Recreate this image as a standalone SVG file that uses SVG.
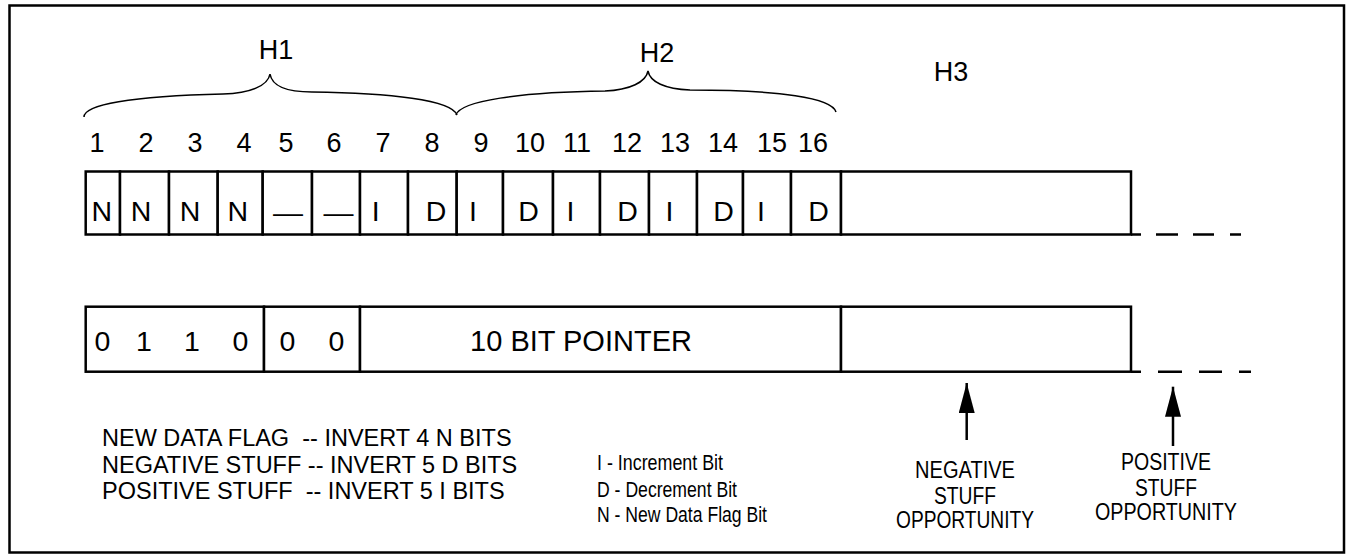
<svg xmlns="http://www.w3.org/2000/svg" width="1347" height="558" viewBox="0 0 1347 558">
<style>
text{font-family:"Liberation Sans",Arial,sans-serif;fill:#000}
.cell{fill:#fff;stroke:#000;stroke-width:2.5}
.ln{fill:none;stroke:#000;stroke-width:2.5}
.br{fill:none;stroke:#000;stroke-width:1.5}
.num{font-size:27px;text-anchor:middle}
.bit{font-size:28.5px;text-anchor:middle}
.hl{font-size:27px;text-anchor:middle}
.leg{font-size:23.5px;white-space:pre}
.key{font-size:22.5px}
.op{font-size:23px;text-anchor:middle}
</style>
<defs>
<marker id="ah" viewBox="0 0 30 16" refX="30" refY="8" markerWidth="30" markerHeight="16" markerUnits="userSpaceOnUse" orient="auto">
<path d="M0,0 L30,8 L0,16 z" fill="#000"/>
</marker>
</defs>
<rect x="9.5" y="5.5" width="1334.5" height="547" fill="#fff" stroke="#000" stroke-width="2.5"/>

<g id="braces">
<path class="br" d="M84,117 C84,105 130,96 223,94 C250,93 268,86 270,74 C272,86 285,92 312,92 C390,93 452,100 457,115"/>
<path class="br" d="M456,115 C460,101 520,92 605,91 C630,90 646,82 648,71 C650,82 665,89 690,90 C780,90 832,98 836,112"/>
</g>
<g id="headers">
<text class="hl" x="276" y="59">H1</text>
<text class="hl" x="657" y="62">H2</text>
<text class="hl" x="951" y="81">H3</text>
</g>
<g id="bit-numbers">
<text class="num" x="97" y="152">1</text>
<text class="num" x="146" y="152">2</text>
<text class="num" x="195" y="152">3</text>
<text class="num" x="244" y="152">4</text>
<text class="num" x="286" y="152">5</text>
<text class="num" x="334" y="152">6</text>
<text class="num" x="383" y="152">7</text>
<text class="num" x="432" y="152">8</text>
<text class="num" x="481" y="152">9</text>
<text class="num" x="530" y="152">10</text>
<text class="num" x="577" y="152">11</text>
<text class="num" x="627" y="152">12</text>
<text class="num" x="675" y="152">13</text>
<text class="num" x="723" y="152">14</text>
<text class="num" x="772" y="152">15</text>
<text class="num" x="813" y="152">16</text>
</g>

<g id="top-row">
<g id="t1"><rect class="cell" x="85.7" y="171.5" width="34.3" height="63"/><text class="bit" x="101.7" y="220.5">N</text></g>
<g id="t2"><rect class="cell" x="120" y="171.5" width="49" height="63"/><text class="bit" x="141" y="220.5">N</text></g>
<g id="t3"><rect class="cell" x="169" y="171.5" width="48.7" height="63"/><text class="bit" x="190" y="220.5">N</text></g>
<g id="t4"><rect class="cell" x="217.7" y="171.5" width="45" height="63"/><text class="bit" x="237.7" y="220.5">N</text></g>
<g id="t5"><rect class="cell" x="262.7" y="171.5" width="49.3" height="63"/><text class="bit" x="288" y="222" textLength="30" lengthAdjust="spacingAndGlyphs">—</text></g>
<g id="t6"><rect class="cell" x="312" y="171.5" width="48" height="63"/><text class="bit" x="338.5" y="222" textLength="30" lengthAdjust="spacingAndGlyphs">—</text></g>
<g id="t7"><rect class="cell" x="360" y="171.5" width="48" height="63"/><text class="bit" x="375.7" y="220.5">I</text></g>
<g id="t8"><rect class="cell" x="408" y="171.5" width="48.7" height="63"/><text class="bit" x="436" y="220.5">D</text></g>
<g id="t9"><rect class="cell" x="456.7" y="171.5" width="46.3" height="63"/><text class="bit" x="473" y="220.5">I</text></g>
<g id="t10"><rect class="cell" x="503" y="171.5" width="50" height="63"/><text class="bit" x="528.5" y="220.5">D</text></g>
<g id="t11"><rect class="cell" x="553" y="171.5" width="47" height="63"/><text class="bit" x="570.5" y="220.5">I</text></g>
<g id="t12"><rect class="cell" x="600" y="171.5" width="49" height="63"/><text class="bit" x="627.5" y="220.5">D</text></g>
<g id="t13"><rect class="cell" x="649" y="171.5" width="48" height="63"/><text class="bit" x="669.5" y="220.5">I</text></g>
<g id="t14"><rect class="cell" x="697" y="171.5" width="46" height="63"/><text class="bit" x="723.5" y="220.5">D</text></g>
<g id="t15"><rect class="cell" x="743" y="171.5" width="48" height="63"/><text class="bit" x="761" y="220.5">I</text></g>
<g id="t16"><rect class="cell" x="791" y="171.5" width="50" height="63"/><text class="bit" x="818.5" y="220.5">D</text></g>
<g id="t-h3"><rect class="cell" x="841" y="171.5" width="290" height="63"/></g>
</g>

<g id="bottom-row">
<g id="b-0110"><rect class="cell" x="85.7" y="306.7" width="178.3" height="65"/>
<text class="bit" x="102.5" y="351">0</text><text class="bit" x="144" y="351">1</text><text class="bit" x="192" y="351">1</text><text class="bit" x="240.5" y="351">0</text></g>
<g id="b-00"><rect class="cell" x="264" y="306.7" width="96" height="65"/>
<text class="bit" x="287.5" y="351">0</text><text class="bit" x="336.5" y="351">0</text></g>
<g id="b-pointer"><rect class="cell" x="360" y="306.7" width="481" height="65"/><text class="bit" x="581" y="351" style="font-size:29px">10 BIT POINTER</text></g>
<g id="b-h3"><rect class="cell" x="841" y="306.7" width="290" height="65"/></g>
</g>

<g id="continuation">
<path class="ln" d="M1131,234.5 H1141 M1156,234.5 H1178 M1193,234.5 H1214 M1230,234.5 H1241"/>
<path class="ln" d="M1131,371.7 H1141 M1158,371.7 H1182 M1199,371.7 H1222 M1239,371.7 H1251"/>
</g>

<g id="connectors">
<line class="ln" x1="966.7" y1="440" x2="966.7" y2="383" marker-end="url(#ah)"/>
<line class="ln" x1="1173" y1="446" x2="1173" y2="386.7" marker-end="url(#ah)"/>
</g>

<g id="legend">
<text class="leg" x="102" y="446">NEW DATA FLAG  -- INVERT 4 N BITS</text>
<text class="leg" x="102" y="472.5">NEGATIVE STUFF -- INVERT 5 D BITS</text>
<text class="leg" x="102" y="499">POSITIVE STUFF  -- INVERT 5 I BITS</text>
</g>
<g id="key">
<text class="key" x="597" y="470" textLength="126" lengthAdjust="spacingAndGlyphs">I - Increment Bit</text>
<text class="key" x="597" y="497" textLength="140" lengthAdjust="spacingAndGlyphs">D - Decrement Bit</text>
<text class="key" x="597" y="522" textLength="170" lengthAdjust="spacingAndGlyphs">N - New Data Flag Bit</text>
</g>
<g id="neg-label">
<text class="op" x="965" y="478" textLength="100" lengthAdjust="spacingAndGlyphs">NEGATIVE</text>
<text class="op" x="965" y="504" textLength="62" lengthAdjust="spacingAndGlyphs">STUFF</text>
<text class="op" x="965" y="528" textLength="138" lengthAdjust="spacingAndGlyphs">OPPORTUNITY</text>
</g>
<g id="pos-label">
<text class="op" x="1166" y="470" textLength="90" lengthAdjust="spacingAndGlyphs">POSITIVE</text>
<text class="op" x="1166" y="496" textLength="62" lengthAdjust="spacingAndGlyphs">STUFF</text>
<text class="op" x="1166" y="520" textLength="142" lengthAdjust="spacingAndGlyphs">OPPORTUNITY</text>
</g>
</svg>
